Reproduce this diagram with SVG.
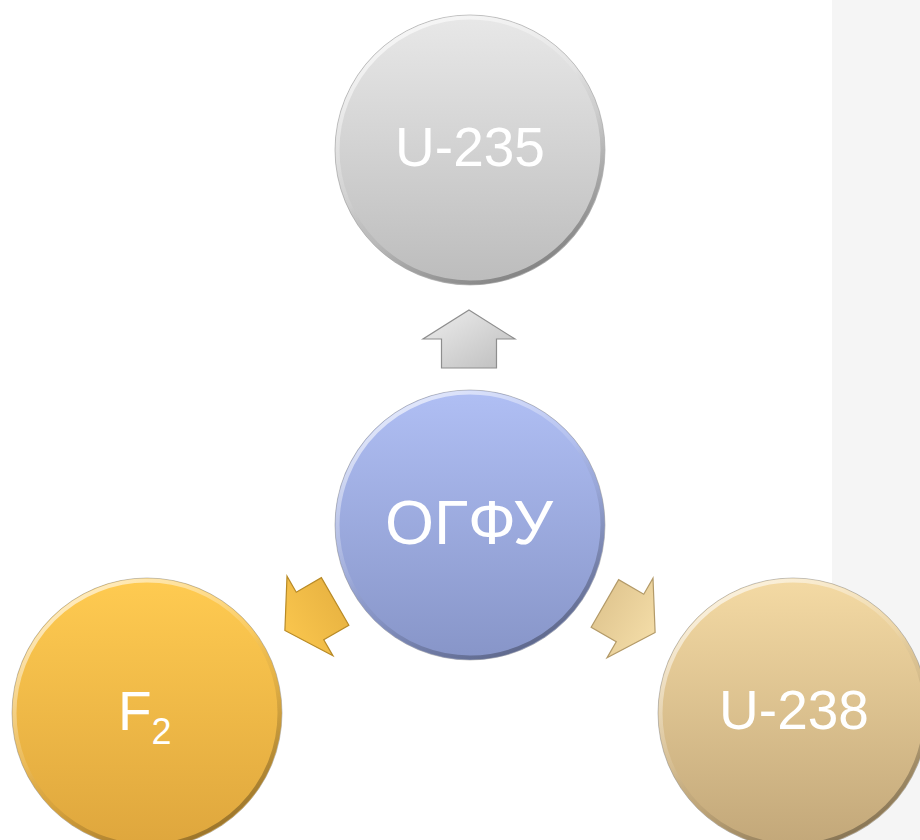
<svg xmlns="http://www.w3.org/2000/svg" width="920" height="840" viewBox="0 0 920 840">
  <defs>
    <!-- body fills, lighter at the top -->
    <linearGradient id="gGray" x1="0" y1="0" x2="0" y2="1">
      <stop offset="0" stop-color="#e8e8e8"/>
      <stop offset="1" stop-color="#bcbcbc"/>
    </linearGradient>
    <linearGradient id="gBlue" x1="0" y1="0" x2="0" y2="1">
      <stop offset="0" stop-color="#b0bff4"/>
      <stop offset="1" stop-color="#8795c8"/>
    </linearGradient>
    <linearGradient id="gGold" x1="0" y1="0" x2="0" y2="1">
      <stop offset="0" stop-color="#ffcb51"/>
      <stop offset="1" stop-color="#dea63d"/>
    </linearGradient>
    <linearGradient id="gSand" x1="0" y1="0" x2="0" y2="1">
      <stop offset="0" stop-color="#f4daa4"/>
      <stop offset="1" stop-color="#c2a779"/>
    </linearGradient>
    <!-- bevel rim: bright on the upper left, dark on the lower right -->
    <linearGradient id="rim" x1="0.2" y1="0" x2="0.8" y2="1">
      <stop offset="0" stop-color="#ffffff" stop-opacity="0.7"/>
      <stop offset="0.45" stop-color="#ffffff" stop-opacity="0.1"/>
      <stop offset="0.6" stop-color="#000000" stop-opacity="0.05"/>
      <stop offset="1" stop-color="#000000" stop-opacity="0.35"/>
    </linearGradient>
    <linearGradient id="aGray" x1="0" y1="0" x2="1" y2="1">
      <stop offset="0" stop-color="#eeeeee"/>
      <stop offset="1" stop-color="#bdbdbd"/>
    </linearGradient>
    <linearGradient id="aGold" x1="0" y1="0" x2="0" y2="1">
      <stop offset="0" stop-color="#f9c54d"/>
      <stop offset="1" stop-color="#eab543"/>
    </linearGradient>
    <linearGradient id="aSand" x1="0" y1="0" x2="0" y2="1">
      <stop offset="0" stop-color="#f3dca7"/>
      <stop offset="1" stop-color="#e2c892"/>
    </linearGradient>
    <!-- block arrow pointing up, centred on the origin -->
    <path id="blockArrow" d="M0,-29 L46,0 L27.5,0 L27.5,29 L-27.5,29 L-27.5,0 L-46,0 Z"/>
  </defs>
  <style>
    .body { stroke: #8a8a8a; stroke-width: 1; stroke-opacity: 0.5; }
    .bevel { fill: none; stroke: url(#rim); stroke-width: 4; }
    .label { font-family: "Liberation Sans", Arial, sans-serif; font-size: 55px; fill: #ffffff; text-anchor: middle; }
    .arrow { stroke-width: 1.2; stroke-linejoin: miter; }
  </style>

  <rect x="0" y="0" width="920" height="840" fill="#ffffff"/>
  <rect x="832" y="0" width="88" height="840" fill="#f5f5f5"/>

  <g id="connectors">
    <g transform="translate(469,339)">
      <use href="#blockArrow" class="arrow" fill="url(#aGray)" stroke="#8e8e8e"/>
    </g>
    <g transform="translate(310,616) rotate(-120)">
      <use href="#blockArrow" class="arrow" fill="url(#aGold)" stroke="#b88a26"/>
    </g>
    <g transform="translate(630,618) rotate(120)">
      <use href="#blockArrow" class="arrow" fill="url(#aSand)" stroke="#b39a68"/>
    </g>
  </g>

  <g id="node-u235">
    <circle cx="470" cy="150" r="135" class="body" fill="url(#gGray)"/>
    <circle cx="470" cy="150" r="132.5" class="bevel"/>
    <text x="470" y="166" class="label">U-235</text>
  </g>

  <g id="node-ogfu">
    <circle cx="470" cy="525" r="135" class="body" fill="url(#gBlue)"/>
    <circle cx="470" cy="525" r="132.5" class="bevel"/>
    <text x="469" y="544" class="label" font-size="63" style="font-size:63px">ОГФУ</text>
  </g>

  <g id="node-f2">
    <circle cx="147" cy="713" r="135" class="body" fill="url(#gGold)"/>
    <circle cx="147" cy="713" r="132.5" class="bevel"/>
    <text x="118" y="730" class="label" style="text-anchor:start">F<tspan font-size="36" dy="14">2</tspan></text>
  </g>

  <g id="node-u238">
    <circle cx="793" cy="713" r="135" class="body" fill="url(#gSand)"/>
    <circle cx="793" cy="713" r="132.5" class="bevel"/>
    <text x="794" y="729" class="label">U-238</text>
  </g>
</svg>
